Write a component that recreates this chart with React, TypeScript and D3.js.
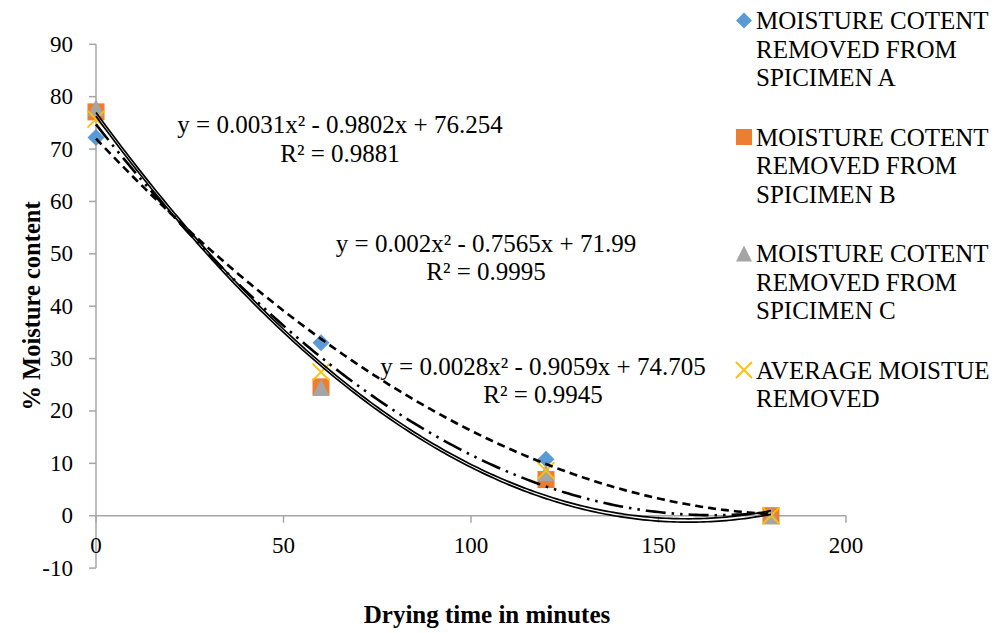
import React from "react";
import * as d3 from "d3";

const times = [0, 60, 120, 180];
const seriesA = [72.2, 33.0, 10.8, 0];
const seriesB = [77.1, 24.6, 6.9, 0];
const seriesC = [77.9, 24.5, 8.2, 0];
const seriesAvg = [75.7, 27.4, 8.6, 0];

const seriesNames = [
  ["MOISTURE COTENT", "REMOVED FROM", "SPICIMEN A"],
  ["MOISTURE COTENT", "REMOVED FROM", "SPICIMEN B"],
  ["MOISTURE COTENT", "REMOVED FROM", "SPICIMEN C"],
  ["AVERAGE MOISTUE", "REMOVED"],
];

// trendline coefficients [a, b, c] for y = a x^2 + b x + c
const trendA = [0.00199, -0.7565, 71.99];
const trendB = [0.0031, -0.9802, 76.254];
const trendC = [0.00312, -0.984, 77.0];
const trendAvg = [0.00275, -0.9059, 74.705];

const eqLabels = [
  ["y = 0.0031x² - 0.9802x + 76.254", "R² = 0.9881"],
  ["y = 0.002x² - 0.7565x + 71.99", "R² = 0.9995"],
  ["y = 0.0028x² - 0.9059x + 74.705", "R² = 0.9945"],
];

const xTicks = [0, 50, 100, 150, 200];
const yTicks = [-10, 0, 10, 20, 30, 40, 50, 60, 70, 80, 90];

const W = 995;
const H = 633;
const FONT = "'Liberation Serif', 'Times New Roman', serif";
const AXIS = "#a6a6a6";

export default function App() {
  const x = d3.scaleLinear().domain([0, 200]).range([96, 846]);
  const y = d3.scaleLinear().domain([-10, 90]).range([568.1, 44.3]);

  const trendPath = (co: number[]) => {
    const pts = d3.range(0, 180.01, 1).map((t) => [t, co[0] * t * t + co[1] * t + co[2]] as [number, number]);
    return d3.line<[number, number]>().x((d) => x(d[0])).y((d) => y(d[1]))(pts) || "";
  };

  const diamond = (cx: number, cy: number, s: number, key: string) => (
    <path key={key} d={`M${cx},${cy - s / 2}L${cx + s / 2},${cy}L${cx},${cy + s / 2}L${cx - s / 2},${cy}Z`} fill="#5b9bd5" />
  );
  const square = (cx: number, cy: number, s: number, key: string) => (
    <rect key={key} x={cx - s / 2} y={cy - s / 2} width={s} height={s} fill="#ed7d31" />
  );
  const triangle = (cx: number, cy: number, s: number, key: string) => (
    <path key={key} d={`M${cx},${cy - s / 2}L${cx + s / 2},${cy + s / 2}L${cx - s / 2},${cy + s / 2}Z`} fill="#a5a5a5" />
  );
  const cross = (cx: number, cy: number, s: number, key: string) => (
    <path key={key} d={`M${cx - s / 2},${cy - s / 2}L${cx + s / 2},${cy + s / 2}M${cx + s / 2},${cy - s / 2}L${cx - s / 2},${cy + s / 2}`} stroke="#ffc000" strokeWidth={1.8} fill="none" />
  );

  const markers = [diamond, square, triangle, cross];
  const data = [seriesA, seriesB, seriesC, seriesAvg];

  const legendStarts = [29, 145.5, 262, 378.5];
  const lineH = 28.7;

  const eqPos = [
    { cx: 340, b: 133, b2: 162 },
    { cx: 486, b: 252, b2: 280 },
    { cx: 543, b: 375, b2: 403 },
  ];

  return (
    <svg width={W} height={H} style={{ position: "absolute", left: 0, top: 0, background: "#fff" }} fontFamily={FONT}>
      <rect width={W} height={H} fill="#fff" />
      {/* axes */}
      <line x1={x(0)} x2={x(200)} y1={y(0)} y2={y(0)} stroke={AXIS} strokeWidth={1.5} />
      <line x1={x(0)} x2={x(0)} y1={y(-10)} y2={y(90)} stroke={AXIS} strokeWidth={1.5} />
      {yTicks.map((t) => (
        <g key={"yt" + t}>
          <line x1={x(0) - 7} x2={x(0)} y1={y(t)} y2={y(t)} stroke={AXIS} strokeWidth={1.5} />
          <text x={73} y={y(t) + 7.5} textAnchor="end" fontSize={23} fill="#000">{t}</text>
        </g>
      ))}
      {xTicks.map((t) => (
        <g key={"xt" + t}>
          <line x1={x(t)} x2={x(t)} y1={y(0)} y2={y(0) + 7} stroke={AXIS} strokeWidth={1.5} />
          <text x={x(t)} y={553} textAnchor="middle" fontSize={23} fill="#000">{t}</text>
        </g>
      ))}
      {/* markers */}
      {data.map((s, i) => s.map((v, j) => markers[i](x(times[j]), y(v), 17, `m${i}-${j}`)))}
      {/* trendlines */}
      <path d={trendPath(trendC)} fill="none" stroke="#000" strokeWidth={1.7} />
      <path d={trendPath(trendB)} fill="none" stroke="#000" strokeWidth={1.7} />
      <path d={trendPath(trendAvg)} fill="none" stroke="#000" strokeWidth={2.6} strokeDasharray="20,6,2.5,6,2.5,6" />
      <path d={trendPath(trendA)} fill="none" stroke="#000" strokeWidth={2.6} strokeDasharray="8,5" />
      {/* equations */}
      {eqLabels.map((e, i) => (
        <g key={"eq" + i}>
          <text x={eqPos[i].cx} y={eqPos[i].b} textAnchor="middle" fontSize={25}>{e[0]}</text>
          <text x={eqPos[i].cx} y={eqPos[i].b2} textAnchor="middle" fontSize={25}>{e[1]}</text>
        </g>
      ))}
      {/* axis titles */}
      <text transform={`translate(40,306) rotate(-90)`} textAnchor="middle" fontSize={24.5} fontWeight="bold">% Moisture content</text>
      <text x={487} y={623} textAnchor="middle" fontSize={25} fontWeight="bold">Drying time in minutes</text>
      {/* legend */}
      {seriesNames.map((lines, i) => (
        <g key={"lg" + i}>
          {markers[i](744, legendStarts[i] - 8.5, 16, "lm" + i)}
          {lines.map((l, k) => (
            <text key={k} x={756} y={legendStarts[i] + k * lineH} fontSize={25}>{l}</text>
          ))}
        </g>
      ))}
    </svg>
  );
}
